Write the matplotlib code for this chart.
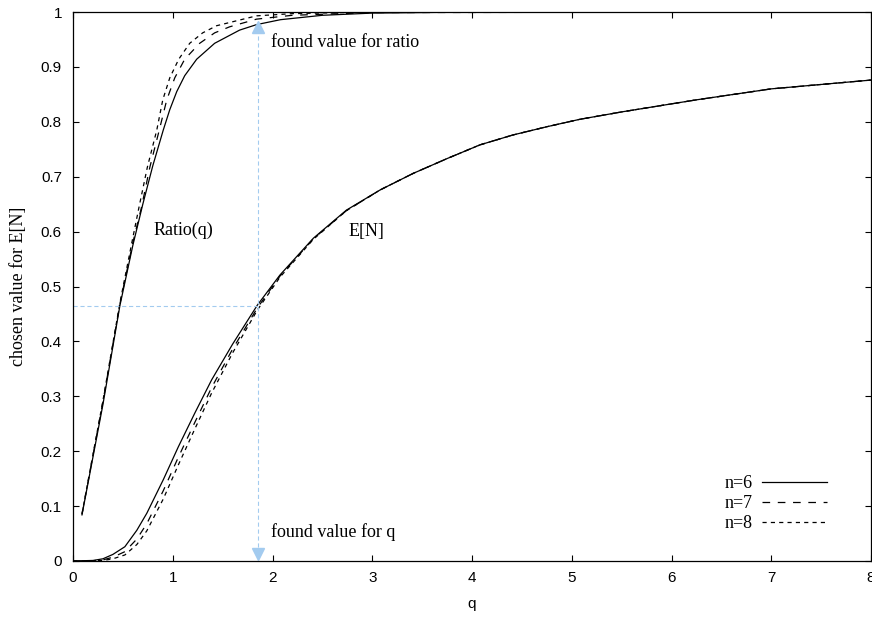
import numpy as np
import matplotlib
matplotlib.use("Agg")
import matplotlib.pyplot as plt

plt.rcParams['font.family'] = ['Liberation Sans', 'DejaVu Sans']
plt.rcParams['lines.scale_dashes'] = False

# Ratio(q) curves
ratio_q6 = [0.09, 0.3, 0.47, 0.6, 0.70, 0.8, 0.905, 0.97, 1.04, 1.12, 1.24, 1.42, 1.67, 1.84, 2.08, 2.5, 3.0, 4.0, 8.0]
ratio_v6 = [0.084, 0.285, 0.465, 0.575, 0.65, 0.72, 0.785, 0.822, 0.855, 0.884, 0.914, 0.943, 0.967, 0.977, 0.986, 0.994, 0.998, 1.0, 1.0]
ratio_q7 = [0.09, 0.3, 0.47, 0.6, 0.685, 0.77, 0.865, 0.94, 1.02, 1.12, 1.27, 1.42, 1.57, 1.84, 2.2, 3.0, 8.0]
ratio_v7 = [0.085, 0.29, 0.468, 0.58, 0.643, 0.717, 0.785, 0.84, 0.88, 0.914, 0.943, 0.962, 0.973, 0.987, 0.994, 0.999, 1.0]
ratio_q8 = [0.09, 0.3, 0.47, 0.59, 0.66, 0.745, 0.84, 0.9, 0.97, 1.06, 1.17, 1.3, 1.44, 1.84, 2.2, 3.0, 8.0]
ratio_v8 = [0.086, 0.292, 0.47, 0.58, 0.643, 0.717, 0.785, 0.84, 0.88, 0.914, 0.943, 0.962, 0.975, 0.993, 0.997, 1.0, 1.0]

# E[N] curves
en_q = [0, 0.2, 0.3, 0.4, 0.52, 0.64, 0.74, 0.905, 1.056, 1.22, 1.39, 1.6, 1.848, 2.075, 2.41, 2.74,
        3.08, 3.41, 3.75, 4.08, 4.41, 4.75, 5.08, 5.5, 6.25, 7.0, 8.0]
en_v6 = [0, 0.001, 0.004, 0.012, 0.026, 0.056, 0.087, 0.148, 0.208, 0.269, 0.33, 0.395, 0.466, 0.521, 0.588, 0.639,
         0.676, 0.706, 0.733, 0.758, 0.776, 0.791, 0.8045, 0.818, 0.84, 0.86, 0.876]
en_v7 = [0, 0.0005, 0.002, 0.007, 0.017, 0.040, 0.068, 0.128, 0.189, 0.252, 0.316, 0.386, 0.461, 0.519, 0.587, 0.638,
         0.676, 0.706, 0.733, 0.758, 0.776, 0.791, 0.8045, 0.818, 0.84, 0.86, 0.876]
en_v8 = [0, 0.0002, 0.001, 0.004, 0.011, 0.030, 0.055, 0.113, 0.175, 0.240, 0.306, 0.379, 0.457, 0.517, 0.586, 0.638,
         0.676, 0.706, 0.733, 0.758, 0.776, 0.791, 0.8045, 0.818, 0.84, 0.86, 0.876]

found_q = 1.85
found_ratio = 0.985
chosen_en = 0.465

styles = {6: '-', 7: (0, (5.5, 5.5)), 8: (0, (3, 3))}
blue = '#a3cbef'
serif = ['Liberation Serif', 'DejaVu Serif']

fig = plt.figure(figsize=(8.72, 6.17), dpi=100)
ax = fig.add_axes([73 / 872, 56 / 617, 798 / 872, 549 / 617])

handles = []
for n, rq, rv, ev in [(6, ratio_q6, ratio_v6, en_v6), (7, ratio_q7, ratio_v7, en_v7), (8, ratio_q8, ratio_v8, en_v8)]:
    h, = ax.plot(rq, rv, color='black', lw=0.9, linestyle=styles[n])
    ax.plot(en_q, ev, color='black', lw=0.9, linestyle=styles[n])
    handles.append(h)

# found values
ax.plot([found_q, found_q], [0.012, found_ratio - 0.015], color=blue, lw=0.8, linestyle=(0, (3, 2)))
ax.plot([0, found_q], [chosen_en, chosen_en], color=blue, lw=0.8, linestyle=(0, (3, 2)))
ax.plot([found_q], [found_ratio - 0.012], marker='^', color=blue, markersize=8, clip_on=False)
ax.plot([found_q], [0.012], marker='v', color=blue, markersize=8, clip_on=False)

ax.text(1.98, 0.945, 'found value for ratio', family=serif, fontsize=13, va='center')
ax.text(1.98, 0.053, 'found value for q', family=serif, fontsize=13, va='center')
ax.text(0.81, 0.603, 'Ratio(q)', family=serif, fontsize=13, va='center')
ax.text(2.76, 0.6, 'E[N]', family=serif, fontsize=13, va='center')

ax.legend(handles, ['n=6', 'n=7', 'n=8'], loc='lower right', bbox_to_anchor=(0.945, 0.052),
          frameon=False, markerfirst=False, handlelength=3.6, handletextpad=0.5,
          labelspacing=0.18, borderpad=0, borderaxespad=0, prop={'family': serif, 'size': 13})

ax.set_xlim(0, 8)
ax.set_ylim(0, 1)
ax.set_xticks(range(0, 9))
ax.set_yticks(np.arange(0, 11) / 10)
ax.set_yticklabels(['0', '0.1', '0.2', '0.3', '0.4', '0.5', '0.6', '0.7', '0.8', '0.9', '1'])
ax.tick_params(direction='in', length=4.5, width=0.8, top=True, right=True, labelsize=11)
ax.tick_params(axis='x', pad=7)
ax.tick_params(axis='y', pad=8)
for s in ax.spines.values():
    s.set_linewidth(0.9)
ax.set_xlabel('q', fontsize=11, labelpad=9)
ax.set_ylabel('chosen value for E[N]', family=serif, fontsize=13, labelpad=10)

fig.savefig('out.png', dpi=100)
